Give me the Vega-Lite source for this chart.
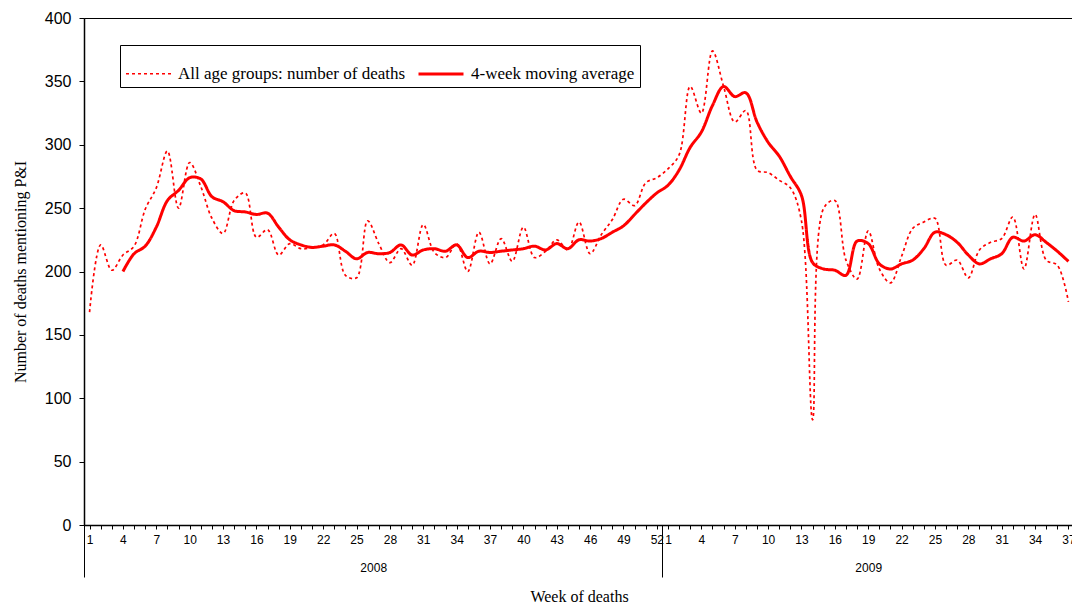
{
  "$schema": "https://vega.github.io/schema/vega-lite/v6.json",
  "width": 990,
  "height": 507,
  "autosize": {"type": "none"},
  "padding": {"left": 84, "top": 18, "right": 0, "bottom": 82},
  "background": "white",
  "config": {
    "view": {"stroke": "black", "strokeWidth": 1},
    "axis": {"grid": false}
  },
  "data": {
    "values": [
      {"i":0,"d":168},{"i":1,"d":221},{"i":2,"d":201},
      {"i":3,"d":213,"m":200},{"i":4,"d":220,"m":214},{"i":5,"d":249,"m":220},{"i":6,"d":266,"m":235},
      {"i":7,"d":295,"m":256},{"i":8,"d":250,"m":264},{"i":9,"d":286,"m":274},{"i":10,"d":267,"m":273},
      {"i":11,"d":242,"m":259},{"i":12,"d":230,"m":255},{"i":13,"d":256,"m":248},{"i":14,"d":262,"m":247},
      {"i":15,"d":227,"m":245},{"i":16,"d":233,"m":246},{"i":17,"d":213,"m":235},{"i":18,"d":222,"m":225},
      {"i":19,"d":218,"m":221},{"i":20,"d":219,"m":219},{"i":21,"d":221,"m":220},{"i":22,"d":230,"m":221},
      {"i":23,"d":197,"m":216},{"i":24,"d":195,"m":210},{"i":25,"d":240,"m":215},{"i":26,"d":222,"m":214},
      {"i":27,"d":207,"m":215},{"i":28,"d":218,"m":221},{"i":29,"d":205,"m":213},{"i":30,"d":237,"m":217},
      {"i":31,"d":215,"m":218},{"i":32,"d":211,"m":216},{"i":33,"d":222,"m":221},{"i":34,"d":200,"m":211},
      {"i":35,"d":231,"m":216},{"i":36,"d":206,"m":215},{"i":37,"d":226,"m":216},{"i":38,"d":208,"m":217},
      {"i":39,"d":235,"m":218},{"i":40,"d":211,"m":220},{"i":41,"d":216,"m":217},{"i":42,"d":225,"m":222},
      {"i":43,"d":217,"m":218},{"i":44,"d":239,"m":225},{"i":45,"d":214,"m":224},{"i":46,"d":229,"m":226},
      {"i":47,"d":241,"m":231},{"i":48,"d":257,"m":236},{"i":49,"d":252,"m":245},{"i":50,"d":270,"m":254},
      {"i":51,"d":274,"m":262},{"i":52,"d":281,"m":268},{"i":53,"d":292,"m":280},{"i":54,"d":346,"m":298},
      {"i":55,"d":325,"m":310},{"i":56,"d":374,"m":331},{"i":57,"d":346,"m":346},{"i":58,"d":318,"m":338},
      {"i":59,"d":327,"m":341},{"i":60,"d":280,"m":318},{"i":61,"d":278,"m":302},{"i":62,"d":272,"m":291},
      {"i":63,"d":266,"m":275},{"i":64,"d":240,"m":260},{"i":65,"d":83,"m":207},{"i":66,"d":250,"m":202},
      {"i":67,"d":256,"m":201},{"i":68,"d":209,"m":197},{"i":69,"d":194,"m":224},{"i":70,"d":232,"m":222},
      {"i":71,"d":202,"m":206},{"i":72,"d":191,"m":202},{"i":73,"d":212,"m":206},{"i":74,"d":234,"m":209},
      {"i":75,"d":239,"m":218},{"i":76,"d":242,"m":231},{"i":77,"d":205,"m":229},{"i":78,"d":209,"m":223},
      {"i":79,"d":195,"m":213},{"i":80,"d":217,"m":206},{"i":81,"d":223,"m":210},{"i":82,"d":226,"m":214},
      {"i":83,"d":243,"m":227},{"i":84,"d":202,"m":224},{"i":85,"d":245,"m":229},{"i":86,"d":209,"m":223},
      {"i":87,"d":205,"m":216},{"i":88,"d":176,"m":208}
    ]
  },
  "transform": [{"fold": ["d", "m"], "as": ["s", "v"]}],
  "resolve": {"axis": {"x": "independent"}},
  "layer": [
    {
      "mark": {"type": "line", "color": "#ff0000", "interpolate": "catmull-rom"},
      "encoding": {
        "x": {
          "field": "i", "type": "quantitative",
          "scale": {"domain": [-0.5, 88.5], "nice": false, "zero": false},
          "axis": {
            "orient": "bottom",
            "values": [0,1,2,3,4,5,6,7,8,9,10,11,12,13,14,15,16,17,18,19,20,21,22,23,24,25,26,27,28,29,30,31,32,33,34,35,36,37,38,39,40,41,42,43,44,45,46,47,48,49,50,51,52,53,54,55,56,57,58,59,60,61,62,63,64,65,66,67,68,69,70,71,72,73,74,75,76,77,78,79,80,81,82,83,84,85,86,87,88],
            "labelExpr": "datum.value <= 51 ? (datum.value % 3 == 0 ? '' + (datum.value + 1) : '') : ((datum.value - 52) % 3 == 0 ? '' + (datum.value - 51) : '')",
            "title": null,
            "domainColor": "black",
            "domainWidth": 1.5,
            "tickColor": "black",
            "tickSize": 4,
            "labelFont": "Liberation Sans",
            "labelFontSize": 12,
            "labelColor": "black",
            "labelPadding": 5,
            "labelOverlap": false,
            "labelBound": false,
            "labelFlush": false
          }
        },
        "y": {
          "field": "v", "type": "quantitative",
          "scale": {"domain": [0, 400], "nice": false},
          "axis": {
            "values": [0,50,100,150,200,250,300,350,400],
            "title": "Number of deaths mentioning P&I",
            "titleFont": "Liberation Serif",
            "titleFontSize": 16,
            "titleFontWeight": "normal",
            "titleColor": "black",
            "titlePadding": 16,
            "domainColor": "black",
            "domainWidth": 1.5,
            "tickColor": "black",
            "tickSize": 5,
            "labelFont": "Liberation Sans",
            "labelFontSize": 16,
            "labelColor": "black",
            "labelPadding": 8
          }
        },
        "strokeDash": {
          "field": "s", "type": "nominal",
          "scale": {"domain": ["d", "m"], "range": [[3, 3], [1, 0]]},
          "legend": {
            "orient": "none", "legendX": 36, "legendY": 27, "direction": "horizontal",
            "title": null, "strokeColor": "black", "fillColor": "white", "padding": 5,
            "symbolType": "stroke", "symbolSize": 2025, "symbolStrokeColor": "#ff0000",
            "labelFont": "Liberation Serif", "labelFontSize": 17, "labelColor": "black",
            "labelLimit": 400, "labelOffset": 6, "columnPadding": 6,
            "labelExpr": "datum.value == 'd' ? 'All age groups: number of deaths' : '4-week moving average'"
          }
        },
        "strokeWidth": {
          "field": "s", "type": "nominal",
          "scale": {"domain": ["d", "m"], "range": [1.7, 3]},
          "legend": {
            "orient": "none", "legendX": 36, "legendY": 27, "direction": "horizontal",
            "title": null, "strokeColor": "black", "fillColor": "white", "padding": 5,
            "symbolType": "stroke", "symbolSize": 2025, "symbolStrokeColor": "#ff0000",
            "labelFont": "Liberation Serif", "labelFontSize": 17, "labelColor": "black",
            "labelLimit": 400, "labelOffset": 6, "columnPadding": 6,
            "labelExpr": "datum.value == 'd' ? 'All age groups: number of deaths' : '4-week moving average'"
          }
        }
      }
    },
    {
      "mark": {"type": "point", "opacity": 0},
      "encoding": {
        "x": {
          "field": "i", "type": "quantitative",
          "axis": {
            "orient": "bottom",
            "values": [-0.5, 25.5, 51.5, 70],
            "labelExpr": "datum.value == 25.5 ? '2008' : (datum.value == 70 ? '2009' : '')",
            "domain": false,
            "tickSize": 52,
            "tickColor": {"condition": {"test": "datum.value == 25.5 || datum.value == 70", "value": "transparent"}, "value": "black"},
            "labelPadding": -15,
            "labelFont": "Liberation Sans",
            "labelFontSize": 12,
            "labelColor": "black",
            "labelOverlap": false,
            "labelBound": false,
            "labelFlush": false,
            "title": "Week of deaths",
            "titleFont": "Liberation Serif",
            "titleFontSize": 16,
            "titleFontWeight": "normal",
            "titleColor": "black",
            "titlePadding": 11
          }
        }
      }
    }
  ]
}
